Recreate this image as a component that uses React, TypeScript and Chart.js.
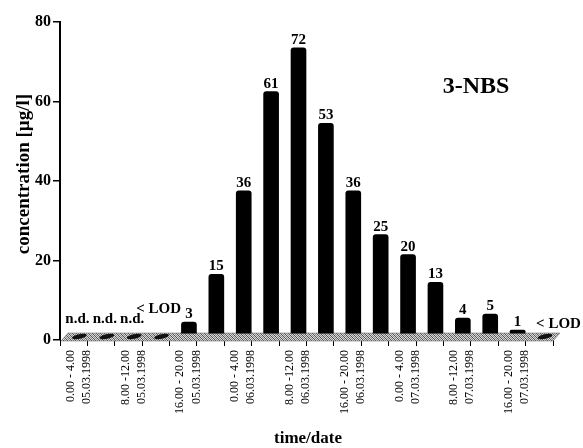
import React, { useEffect, useRef } from 'react';
import { Chart, registerables } from 'chart.js';

Chart.register(...registerables);

const timeSlots = [
  '0.00 - 4.00', '4.00 - 8.00', '8.00 -12.00', '12.00 - 16.00', '16.00 - 20.00', '20.00 - 24.00',
  '0.00 - 4.00', '4.00 - 8.00', '8.00 -12.00', '12.00 - 16.00', '16.00 - 20.00', '20.00 - 24.00',
  '0.00 - 4.00', '4.00 - 8.00', '8.00 -12.00', '12.00 - 16.00', '16.00 - 20.00', '20.00 - 24.00',
];
const dates = [
  '05.03.1998', '05.03.1998', '05.03.1998', '05.03.1998', '05.03.1998', '05.03.1998',
  '06.03.1998', '06.03.1998', '06.03.1998', '06.03.1998', '06.03.1998', '06.03.1998',
  '07.03.1998', '07.03.1998', '07.03.1998', '07.03.1998', '07.03.1998', '07.03.1998',
];
const values = [0, 0, 0, 0, 3, 15, 36, 61, 72, 53, 36, 25, 20, 13, 4, 5, 1, 0];
const valueLabels = ['n.d.', 'n.d.', 'n.d.', '< LOD', '3', '15', '36', '61', '72', '53', '36', '25', '20', '13', '4', '5', '1', '< LOD'];
const yTicks = [0, 20, 40, 60, 80];
const yTitle = 'concentration [µg/l]';
const xTitle = 'time/date';
const chartTitle = '3-NBS';

const FONT = "'Liberation Serif', 'Times New Roman', serif";
const DX = 5.7;
const DY = -6;

function makePattern(ctx: CanvasRenderingContext2D) {
  const pc = document.createElement('canvas');
  pc.width = 4;
  pc.height = 4;
  const p = pc.getContext('2d')!;
  p.fillStyle = '#d6d6d6';
  p.fillRect(0, 0, 4, 4);
  p.fillStyle = '#555';
  for (let i = 0; i < 4; i++) {
    p.fillRect(i, (i + 1) % 4, 1, 1);
  }
  p.fillStyle = '#8a8a8a';
  for (let i = 0; i < 4; i++) {
    p.fillRect(i, (i + 3) % 4, 1, 1);
  }
  return ctx.createPattern(pc, 'repeat');
}

const depthPlugin = {
  id: 'depth3d',
  beforeDatasetsDraw(chart: any) {
    const { ctx, chartArea } = chart;
    const xs = chart.scales.x;
    const ys = chart.scales.y;
    const base = ys.getPixelForValue(0);
    ctx.save();
    ctx.beginPath();
    ctx.moveTo(chartArea.left + 1, base + 1);
    ctx.lineTo(chartArea.right, base + 1);
    ctx.lineTo(chartArea.right + 7, base - 7);
    ctx.lineTo(chartArea.left + 8, base - 7);
    ctx.closePath();
    ctx.fillStyle = makePattern(ctx) || '#aaa';
    ctx.fill();
    ctx.strokeStyle = '#777';
    ctx.lineWidth = 0.6;
    ctx.stroke();
    values.forEach((v, i) => {
      if (v > 0) return;
      const cx = xs.getPixelForValue(i) + DX;
      ctx.beginPath();
      ctx.ellipse(cx, base - 3.5, 7.5, 2.3, -0.2, 0, Math.PI * 2);
      ctx.fillStyle = '#111';
      ctx.fill();
    });
    ctx.restore();
    ctx.save();
    ctx.translate(DX, DY);
  },
  afterDatasetsDraw(chart: any) {
    const { ctx } = chart;
    ctx.restore();
    const xs = chart.scales.x;
    const ys = chart.scales.y;
    ctx.save();
    ctx.fillStyle = '#000';
    ctx.font = `bold 15px ${FONT}`;
    ctx.textAlign = 'center';
    ctx.textBaseline = 'alphabetic';
    valueLabels.forEach((lab, i) => {
      const cx = xs.getPixelForValue(i) + DX;
      const top = ys.getPixelForValue(values[i]) + DY;
      let x = cx;
      let y = top - 4;
      if (values[i] <= 0) {
        if (lab === 'n.d.') {
          x = cx - 2;
          y = top - 11;
        } else if (i === values.length - 1) {
          x = cx + 13.5;
          y = top - 6;
        } else {
          x = cx - 3;
          y = top - 21;
        }
      }
      ctx.fillText(lab, x, y);
    });
    ctx.restore();
  },
  afterDraw(chart: any) {
    const { ctx } = chart;
    ctx.save();
    ctx.fillStyle = '#000';
    ctx.textAlign = 'center';
    ctx.textBaseline = 'alphabetic';
    ctx.font = `bold 24px ${FONT}`;
    ctx.fillText(chartTitle, 476, 93);
    ctx.font = `bold 17px ${FONT}`;
    ctx.fillText(xTitle, 308, 443);
    ctx.translate(29, 174);
    ctx.rotate(-Math.PI / 2);
    ctx.font = `bold 19px ${FONT}`;
    ctx.fillText(yTitle, 0, 0);
    ctx.restore();
  },
};

export default function App() {
  const ref = useRef<HTMLCanvasElement>(null);
  useEffect(() => {
    document.body.style.margin = '0';
    const canvas = ref.current!;
    const chart = new Chart(canvas, {
      type: 'bar',
      data: {
        labels: timeSlots.map((t, i) => `${t} ${dates[i]}`),
        datasets: [
          {
            data: values.map((v) => (v > 0 ? v : null)),
            backgroundColor: '#000',
            borderWidth: 0,
            barThickness: 15,
            borderRadius: { topLeft: 3, topRight: 3, bottomLeft: 0, bottomRight: 0 },
            borderSkipped: 'bottom',
          } as any,
        ],
      },
      options: {
        responsive: false,
        animation: false,
        devicePixelRatio: 1,
        layout: { padding: { top: 22, right: 30, left: 0, bottom: 0 } },
        plugins: {
          legend: { display: false },
          tooltip: { enabled: false },
        },
        scales: {
          x: {
            offset: true,
            grid: {
              display: true,
              drawOnChartArea: false,
              drawTicks: true,
              tickLength: 6,
              color: '#000',
              lineWidth: 1,
              offset: true,
            },
            border: { display: false },
            ticks: {
              autoSkip: false,
              maxRotation: 90,
              minRotation: 90,
              padding: 4,
              labelOffset: -3,
              color: '#000',
              font: { family: FONT, size: 12, lineHeight: 1.35 },
              callback: (_v: any, i: number) => (i % 2 === 0 ? [timeSlots[i], dates[i]] : ''),
            },
            afterFit: (s: any) => {
              s.height = 108;
            },
          },
          y: {
            min: yTicks[0],
            max: yTicks[yTicks.length - 1],
            afterBuildTicks: (s: any) => {
              s.ticks = yTicks.map((v) => ({ value: v }));
            },
            ticks: {
              color: '#000',
              padding: 2,
              font: { family: FONT, size: 16, weight: 'bold' },
            },
            grid: {
              drawOnChartArea: false,
              drawTicks: true,
              tickLength: 7,
              color: '#000',
              lineWidth: 1.5,
            },
            border: { display: true, color: '#000', width: 2 },
            afterFit: (s: any) => {
              s.width = 60;
            },
          },
        },
      } as any,
      plugins: [depthPlugin],
    });
    return () => chart.destroy();
  }, []);
  return (
    <div style={{ position: 'absolute', left: 0, top: 0, width: 583, height: 448, background: '#fff' }}>
      <canvas ref={ref} width={583} height={448} style={{ display: 'block' }} />
    </div>
  );
}
